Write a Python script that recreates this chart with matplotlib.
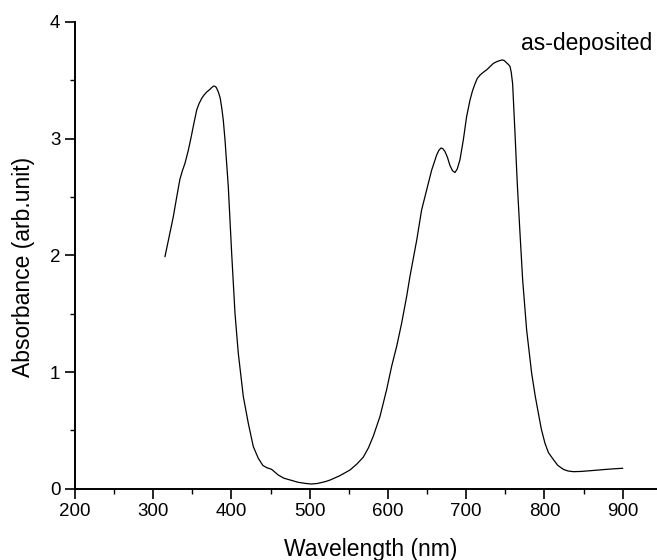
import matplotlib
matplotlib.use("Agg")
import matplotlib.pyplot as plt
from matplotlib.ticker import MultipleLocator

plt.rcParams['font.family'] = ['Liberation Sans', 'DejaVu Sans']

wavelength = [315, 320, 325.6, 330, 334, 337, 340.6, 344.8, 348, 351, 355.5, 358.5, 361.9, 365,
              368.3, 372, 375, 377, 378.5, 380.5, 383.2, 385.5, 387.4, 389.5, 391.7, 395.9, 400.2,
              404.5, 408.7, 415.1, 421.5, 427.9, 434.3, 440, 445,
              451.3, 459.8, 467, 474.8, 485, 495, 502, 510, 519.5, 525.9, 538, 551.4, 560,
              568.4, 575, 581.2, 589.8, 598.3, 604.7, 611.1, 617.5, 623.9, 628.1, 636.7, 643,
              649.4, 655.8, 662.2, 665, 667.7, 670, 672.8, 676, 679.2, 682.5, 685.6, 688.5, 692,
              696.3, 700.5, 704.8, 708, 711.2, 714, 717.6, 722, 726.1, 730, 734.6, 739, 743.1, 746,
              748.5, 751.7, 754, 755.9, 757.5, 759.3, 762.3, 765.2, 768.7,
              772.1, 777.2, 783.6, 788, 792.1, 796, 800.6, 805, 811.3, 817, 824.1, 830, 836.8, 847,
              858.1, 869, 879.4, 890, 899.8]
absorbance = [1.99, 2.15, 2.33, 2.5, 2.65, 2.72, 2.79, 2.90, 3.0, 3.10, 3.245, 3.30, 3.345, 3.375,
              3.40, 3.42, 3.44, 3.45, 3.45, 3.44, 3.40, 3.35, 3.27, 3.16, 2.99, 2.59, 2.02,
              1.50, 1.16, 0.79, 0.56, 0.36, 0.26, 0.20, 0.18,
              0.166, 0.117, 0.09, 0.075, 0.055, 0.045, 0.04, 0.045, 0.06, 0.074, 0.11, 0.16, 0.21,
              0.27, 0.35, 0.45, 0.62, 0.85, 1.05, 1.22, 1.42, 1.65, 1.82, 2.13, 2.39,
              2.56, 2.73, 2.86, 2.90, 2.92, 2.915, 2.89, 2.84, 2.77, 2.725, 2.71, 2.74, 2.82,
              2.99, 3.19, 3.33, 3.41, 3.47, 3.515, 3.545, 3.57, 3.59, 3.615, 3.645, 3.66, 3.67, 3.675,
              3.67, 3.65, 3.635, 3.62, 3.57, 3.47, 3.05, 2.62, 2.19,
              1.79, 1.36, 0.99, 0.80, 0.65, 0.51, 0.39, 0.31, 0.25, 0.20, 0.166, 0.152, 0.146, 0.148,
              0.154, 0.16, 0.166, 0.171, 0.175]

fig = plt.figure(figsize=(6.57, 5.6), dpi=100)
ax = fig.add_axes([75/657, 1 - 488.7/560, 1 - 75/657, (488.7 - 22)/560])
ax.plot(wavelength, absorbance, color='black', linewidth=0.9)

ax.set_xlim(200, 943.8)
ax.set_ylim(0, 4)
ax.xaxis.set_major_locator(MultipleLocator(100))
ax.xaxis.set_minor_locator(MultipleLocator(50))
ax.yaxis.set_major_locator(MultipleLocator(1))
ax.yaxis.set_minor_locator(MultipleLocator(0.5))

for s in ['top', 'right']:
    ax.spines[s].set_visible(False)
for s in ['left', 'bottom']:
    ax.spines[s].set_linewidth(1.4)

ax.tick_params(which='major', direction='out', length=7.5, width=1.2, labelsize=13.5, pad=3)
ax.tick_params(which='minor', direction='out', length=3.5, width=1.0)

ax.set_xlabel('Wavelength (nm)', fontsize=16.5)
ax.set_ylabel('Absorbance (arb.unit)', fontsize=16.5)
ax.xaxis.set_label_coords((371 - 75) / 582, (488.7 - 538) / 466.7)
ax.yaxis.set_label_coords((35 - 75) / 582, (488.7 - 266.5) / 466.7)

fig.text(652/657, 1 - 50/560, 'as-deposited', fontsize=16.5, ha='right', va='baseline')

fig.savefig('out.png', dpi=100)
